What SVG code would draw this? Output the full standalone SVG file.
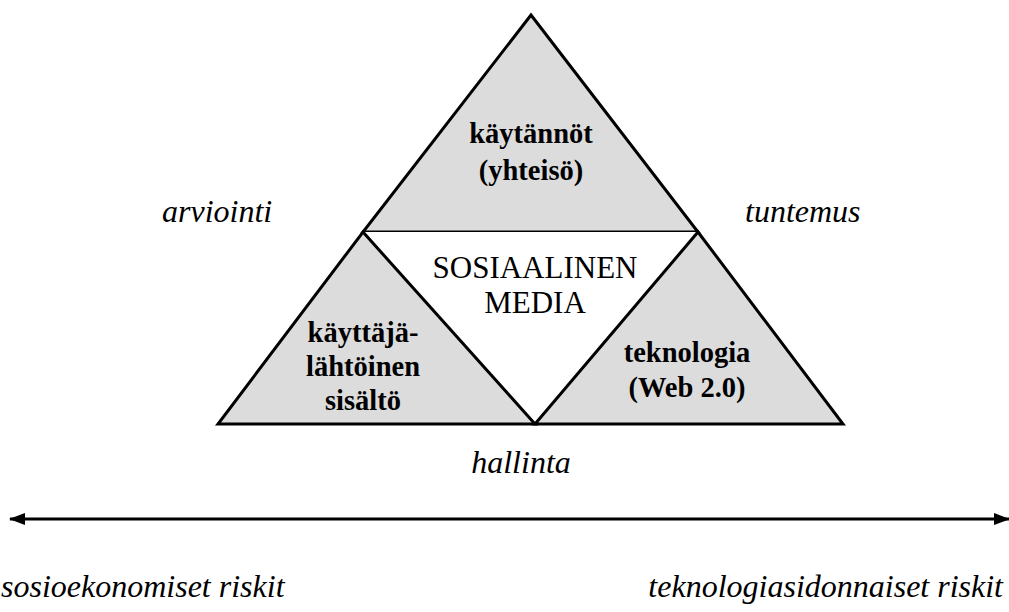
<svg xmlns="http://www.w3.org/2000/svg" width="1009" height="612" viewBox="0 0 1009 612">
<style>
.tri{fill:#dcdcdc;stroke:#000;stroke-width:3;stroke-linejoin:miter}
.b{font-family:"Liberation Serif","Times New Roman",serif;font-weight:bold;font-size:28.5px;text-anchor:middle}
.r{font-family:"Liberation Serif","Times New Roman",serif;font-size:31px;text-anchor:middle}
.i{font-family:"Liberation Serif","Times New Roman",serif;font-style:italic;font-size:32px}
</style>
<defs>
<marker id="ah" markerWidth="16" markerHeight="12" refX="15" refY="6" orient="auto-start-reverse" markerUnits="userSpaceOnUse">
<path d="M0,0 L16,6 L0,12 z" fill="#000"/>
</marker>
</defs>
<rect width="1009" height="612" fill="#fff"/>
<g id="top">
<polygon class="tri" points="531,15 698,232 363,232"/>
<text class="b" x="531" y="143">käytännöt</text>
<text class="b" x="531" y="180">(yhteisö)</text>
</g>
<g id="center">
<polygon points="363,232 698,232 535,424" fill="#fff" stroke="none"/>
<text class="r" x="535" y="278">SOSIAALINEN</text>
<text class="r" x="535" y="313">MEDIA</text>
</g>
<g id="left">
<polygon class="tri" points="363,232 535,424 218,424"/>
<text class="b" x="363" y="342">käyttäjä-</text>
<text class="b" x="363" y="376">lähtöinen</text>
<text class="b" x="363" y="410">sisältö</text>
</g>
<g id="right">
<polygon class="tri" points="698,232 843,424 535,424"/>
<text class="b" x="687" y="362">teknologia</text>
<text class="b" x="687" y="397">(Web 2.0)</text>
</g>
<g id="labels">
<text class="i" x="162" y="222">arviointi</text>
<text class="i" x="745" y="222">tuntemus</text>
<text class="i" x="521" y="473" text-anchor="middle">hallinta</text>
<text class="i" x="1" y="597">sosioekonomiset riskit</text>
<text class="i" x="1003" y="597" text-anchor="end">teknologiasidonnaiset riskit</text>
</g>
<g id="connectors">
<line x1="10" y1="519" x2="1009" y2="519" stroke="#000" stroke-width="3" marker-start="url(#ah)" marker-end="url(#ah)"/>
</g>
</svg>
